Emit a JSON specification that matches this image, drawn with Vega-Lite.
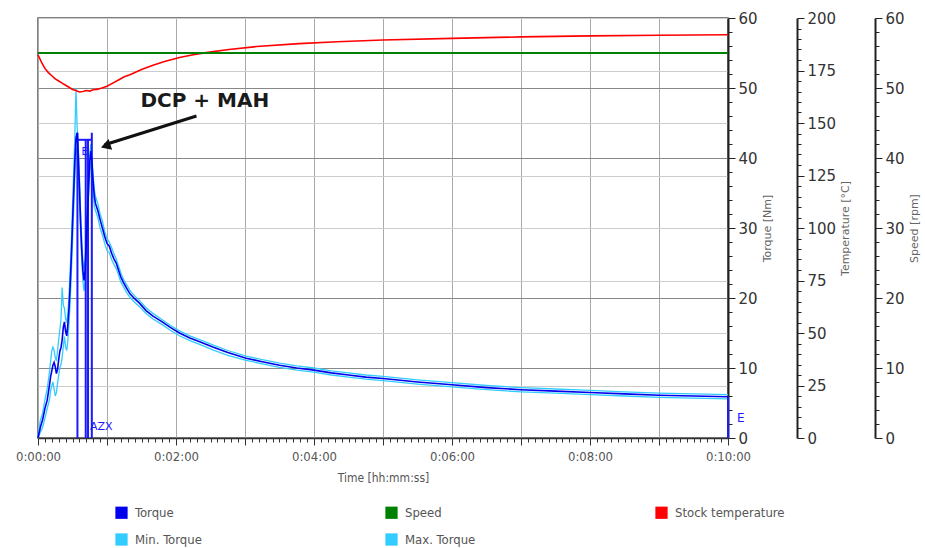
{
"$schema": "https://vega.github.io/schema/vega-lite/v6.json",
"width": 690, "height": 420,
"autosize": {"type": "none"},
"padding": {"left": 38, "top": 18, "right": 197, "bottom": 110},
"background": "white",
"config": {"view": {"stroke": "#555", "strokeWidth": 1.5}, "axis": {"labelOverlap": false}},
"datasets": {
"tq": [{"t":0,"v":0},{"t":2,"v":1.5},{"t":4,"v":2.6},{"t":6,"v":4.2},{"t":8,"v":5.4},{"t":10,"v":7.6},{"t":11,"v":8.8},{"t":12,"v":9.6},{"t":13,"v":10.4},{"t":14,"v":10.8},{"t":15,"v":10.2},{"t":16,"v":9.2},{"t":17,"v":9.8},{"t":18,"v":11.2},{"t":19,"v":12.4},{"t":20,"v":12.9},{"t":21,"v":14},{"t":22,"v":15.8},{"t":23,"v":16.6},{"t":24,"v":15.2},{"t":25,"v":14.6},{"t":26,"v":16.3},{"t":27,"v":18.6},{"t":28,"v":22},{"t":29,"v":26},{"t":30,"v":30.5},{"t":31,"v":35},{"t":32,"v":39.5},{"t":33,"v":42.8},{"t":34,"v":43.6},{"t":35,"v":40.5},{"t":36,"v":36},{"t":37,"v":31},{"t":38,"v":27},{"t":39,"v":24},{"t":40,"v":22.5},{"t":41,"v":24},{"t":42,"v":28},{"t":43,"v":32},{"t":44,"v":36},{"t":45,"v":39.5},{"t":46,"v":41},{"t":47,"v":39},{"t":48,"v":36.5},{"t":49,"v":34.5},{"t":50,"v":33.5},{"t":52,"v":32.5},{"t":54,"v":31.2},{"t":56,"v":30},{"t":58,"v":28.8},{"t":60,"v":27.8},{"t":62,"v":27.4},{"t":64,"v":26.4},{"t":66,"v":25.6},{"t":68,"v":25},{"t":70,"v":24},{"t":72,"v":23},{"t":74,"v":22.3},{"t":77,"v":21.4},{"t":80,"v":20.6},{"t":84,"v":19.9},{"t":88,"v":19.3},{"t":94,"v":18.2},{"t":100,"v":17.4},{"t":108,"v":16.6},{"t":115,"v":15.8},{"t":123,"v":15},{"t":132,"v":14.3},{"t":140,"v":13.8},{"t":152,"v":13},{"t":165,"v":12.2},{"t":181,"v":11.4},{"t":195,"v":10.9},{"t":210,"v":10.4},{"t":225,"v":10},{"t":240,"v":9.7},{"t":255,"v":9.3},{"t":270,"v":9},{"t":285,"v":8.7},{"t":300,"v":8.5},{"t":330,"v":8},{"t":360,"v":7.6},{"t":390,"v":7.2},{"t":420,"v":6.9},{"t":450,"v":6.7},{"t":480,"v":6.5},{"t":510,"v":6.3},{"t":540,"v":6.1},{"t":570,"v":6},{"t":600,"v":5.9}],
"mx": [{"t":0,"v":0.3},{"t":2,"v":2.5},{"t":4,"v":3.5},{"t":6,"v":5.5},{"t":8,"v":7},{"t":10,"v":9.5},{"t":11,"v":11},{"t":12,"v":12.5},{"t":13,"v":13},{"t":14,"v":12.5},{"t":15,"v":11.5},{"t":16,"v":11},{"t":17,"v":12.5},{"t":18,"v":14},{"t":19,"v":15.5},{"t":20,"v":17},{"t":21,"v":21.5},{"t":22,"v":19},{"t":23,"v":18.5},{"t":24,"v":17},{"t":25,"v":16.5},{"t":26,"v":18},{"t":27,"v":20.5},{"t":28,"v":24},{"t":29,"v":28},{"t":30,"v":33},{"t":31,"v":38},{"t":32,"v":43},{"t":33,"v":50},{"t":34,"v":44.5},{"t":35,"v":42},{"t":36,"v":37.5},{"t":37,"v":32.5},{"t":38,"v":28.5},{"t":39,"v":25.5},{"t":40,"v":24},{"t":41,"v":25.5},{"t":42,"v":29.5},{"t":43,"v":33.5},{"t":44,"v":37.5},{"t":45,"v":40.5},{"t":46,"v":42},{"t":47,"v":40},{"t":48,"v":37.5},{"t":49,"v":35.5},{"t":50,"v":34.5},{"t":52,"v":33.5},{"t":54,"v":32},{"t":56,"v":31},{"t":58,"v":29.5},{"t":60,"v":28.5},{"t":62,"v":28},{"t":64,"v":27.2},{"t":66,"v":26.3},{"t":68,"v":25.6},{"t":70,"v":24.6},{"t":72,"v":23.6},{"t":74,"v":22.8},{"t":77,"v":21.9},{"t":80,"v":21.1},{"t":84,"v":20.3},{"t":88,"v":19.7},{"t":94,"v":18.6},{"t":100,"v":17.8},{"t":108,"v":16.9},{"t":115,"v":16.1},{"t":123,"v":15.3},{"t":132,"v":14.6},{"t":140,"v":14.1},{"t":152,"v":13.3},{"t":165,"v":12.5},{"t":181,"v":11.7},{"t":195,"v":11.2},{"t":210,"v":10.7},{"t":225,"v":10.3},{"t":240,"v":10},{"t":255,"v":9.6},{"t":270,"v":9.3},{"t":285,"v":9},{"t":300,"v":8.8},{"t":330,"v":8.3},{"t":360,"v":7.9},{"t":390,"v":7.5},{"t":420,"v":7.2},{"t":450,"v":7},{"t":480,"v":6.8},{"t":510,"v":6.6},{"t":540,"v":6.4},{"t":570,"v":6.3},{"t":600,"v":6.2}],
"mn": [{"t":0,"v":0},{"t":2,"v":0.8},{"t":4,"v":1.5},{"t":6,"v":2.8},{"t":8,"v":4.2},{"t":10,"v":5.5},{"t":11,"v":6.8},{"t":12,"v":7.5},{"t":13,"v":8},{"t":14,"v":7},{"t":15,"v":6},{"t":16,"v":6.5},{"t":17,"v":7.8},{"t":18,"v":9},{"t":19,"v":10},{"t":20,"v":10.5},{"t":21,"v":11.5},{"t":22,"v":13},{"t":23,"v":14.5},{"t":24,"v":13},{"t":25,"v":12.5},{"t":26,"v":14},{"t":27,"v":16.5},{"t":28,"v":19.5},{"t":29,"v":23.5},{"t":30,"v":28},{"t":31,"v":32.5},{"t":32,"v":37},{"t":33,"v":40.5},{"t":34,"v":41.5},{"t":35,"v":38.5},{"t":36,"v":34},{"t":37,"v":29.5},{"t":38,"v":25.5},{"t":39,"v":22.5},{"t":40,"v":21},{"t":41,"v":22.5},{"t":42,"v":26.5},{"t":43,"v":30.5},{"t":44,"v":34.5},{"t":45,"v":38},{"t":46,"v":39.5},{"t":47,"v":37.5},{"t":48,"v":35},{"t":49,"v":33},{"t":50,"v":32.5},{"t":52,"v":31.5},{"t":54,"v":30},{"t":56,"v":29},{"t":58,"v":27.8},{"t":60,"v":26.8},{"t":62,"v":26.5},{"t":64,"v":25.5},{"t":66,"v":24.8},{"t":68,"v":24.2},{"t":70,"v":23.3},{"t":72,"v":22.3},{"t":74,"v":21.7},{"t":77,"v":20.8},{"t":80,"v":20.1},{"t":84,"v":19.4},{"t":88,"v":18.8},{"t":94,"v":17.8},{"t":100,"v":17},{"t":108,"v":16.2},{"t":115,"v":15.4},{"t":123,"v":14.6},{"t":132,"v":13.9},{"t":140,"v":13.4},{"t":152,"v":12.6},{"t":165,"v":11.8},{"t":181,"v":11.1},{"t":195,"v":10.6},{"t":210,"v":10.1},{"t":225,"v":9.7},{"t":240,"v":9.4},{"t":255,"v":9},{"t":270,"v":8.7},{"t":285,"v":8.4},{"t":300,"v":8.2},{"t":330,"v":7.7},{"t":360,"v":7.3},{"t":390,"v":6.9},{"t":420,"v":6.6},{"t":450,"v":6.4},{"t":480,"v":6.2},{"t":510,"v":6},{"t":540,"v":5.8},{"t":570,"v":5.7},{"t":600,"v":5.6}],
"temp": [{"t":0,"T":182.5},{"t":3,"T":179},{"t":6,"T":176},{"t":9,"T":174},{"t":12,"T":172.5},{"t":15,"T":171},{"t":18,"T":170},{"t":21,"T":169},{"t":24,"T":168},{"t":27,"T":167},{"t":30,"T":166},{"t":33,"T":165.5},{"t":36,"T":164.8},{"t":39,"T":165},{"t":42,"T":165.5},{"t":45,"T":165.2},{"t":48,"T":165.8},{"t":51,"T":166},{"t":55,"T":166.5},{"t":60,"T":167.5},{"t":65,"T":169},{"t":70,"T":170.5},{"t":75,"T":172},{"t":80,"T":173},{"t":90,"T":175.5},{"t":100,"T":177.5},{"t":110,"T":179.3},{"t":123,"T":181.2},{"t":135,"T":182.5},{"t":146,"T":183.5},{"t":166,"T":185},{"t":190,"T":186.4},{"t":227,"T":187.8},{"t":260,"T":188.7},{"t":300,"T":189.5},{"t":360,"T":190.3},{"t":420,"T":191},{"t":480,"T":191.5},{"t":540,"T":191.8},{"t":600,"T":192}],
"speed": [{"t":0,"rpm":55},{"t":600,"rpm":55}],
"events": [{"t":34.3,"t2":34.3,"v":0,"v2":43.6},{"t":41.5,"t2":41.5,"v":0,"v2":42.6},{"t":43.5,"t2":43.5,"v":0,"v2":42.6},{"t":46.8,"t2":46.8,"v":0,"v2":43.6},{"t":34.3,"t2":46.8,"v":42.6,"v2":42.6},{"t":600,"t2":600,"v":0,"v2":5.9}],
"marks": [{"t":36,"v":40.8,"label":"E","size":10},{"t":43.5,"v":1.6,"label":"AZX","size":11},{"t":606,"v":2.8,"label":"E","size":12}],
"arrow": [{"t":137.8,"t2":58,"v":46,"v2":41.9}],
"head": [{"t":60.2,"v":41.8}],
"ann": [{"t":145,"v":48.1,"label":"DCP + MAH"}]
},
"layer": [
 {"data": {"name": "mn"}, "mark": {"type": "line", "strokeWidth": 1.3},
  "encoding": {
   "x": {"field": "t", "type": "quantitative", "scale": {"domain": [0, 600], "nice": false, "zero": false},
    "axis": {"values": [0,6,12,18,24,30,36,42,48,54,60,66,72,78,84,90,96,102,108,114,120,126,132,138,144,150,156,162,168,174,180,186,192,198,204,210,216,222,228,234,240,246,252,258,264,270,276,282,288,294,300,306,312,318,324,330,336,342,348,354,360,366,372,378,384,390,396,402,408,414,420,426,432,438,444,450,456,462,468,474,480,486,492,498,504,510,516,522,528,534,540,546,552,558,564,570,576,582,588,594,600],
     "labelExpr": "datum.value % 120 === 0 ? '0:' + (datum.value < 600 ? '0' : '') + (datum.value / 60) + ':00' : ''",
     "labelFlush": false, "labelOverlap": false, "labelFontSize": 13, "labelColor": "#555", "labelFont": "Liberation Sans Narrow, DejaVu Sans Condensed, sans-serif", "labelPadding": 5,
     "tickSize": {"condition": {"test": "datum.value % 60 === 0", "value": 7}, "value": 4},
     "tickColor": "#333", "domainColor": "#333", "domainWidth": 1.5,
     "grid": true, "gridColor": "#aaa", "gridWidth": 1,
     "gridOpacity": {"condition": {"test": "datum.value % 60 === 0", "value": 1}, "value": 0},
     "title": "Time [hh:mm:ss]", "titleFontSize": 12, "titleFontWeight": "normal", "titleColor": "#555", "titleFont": "Liberation Sans Narrow, DejaVu Sans Condensed, sans-serif", "titlePadding": 9}},
   "y": {"field": "v", "type": "quantitative", "scale": {"domain": [0, 60], "nice": false, "zero": false},
    "axis": {"orient": "right", "values": [0,2,4,6,8,10,12,14,16,18,20,22,24,26,28,30,32,34,36,38,40,42,44,46,48,50,52,54,56,58,60],
     "labelExpr": "datum.value % 10 === 0 ? datum.label : ''", "labelOverlap": false,
     "labelFontSize": 15, "labelColor": "#333", "labelFont": "DejaVu Sans", "labelPadding": 3,
     "tickSize": {"condition": {"test": "datum.value % 10 === 0", "value": 7}, "value": 4},
     "tickColor": "#222", "domainColor": "#222", "domainWidth": 2,
     "grid": true, "gridColor": "#888", "gridWidth": 1,
     "gridOpacity": {"condition": {"test": "datum.value % 10 === 0", "value": 1}, "value": 0},
     "title": "Torque [Nm]", "titleAngle": 270, "titleBaseline": "top", "titleFontSize": 11, "titleFontWeight": "normal", "titleColor": "#666", "titleFont": "DejaVu Sans", "titlePadding": 4}},
   "color": {"datum": "Min. Torque", "type": "nominal",
    "scale": {"domain": ["Torque", "Speed", "Stock temperature", "Min. Torque", "Max. Torque"], "range": ["#0000ee", "#008000", "#ff0000", "#33ccff", "#33ccff"]},
    "legend": {"orient": "none", "legendX": 77, "legendY": 488, "direction": "horizontal", "columns": 3, "columnPadding": 140, "rowPadding": 13, "gridAlign": "all",
     "symbolType": "square", "symbolSize": 150, "symbolStrokeWidth": 0, "title": null,
     "labelFontSize": 13, "labelColor": "#555", "labelFont": "Liberation Sans Narrow, DejaVu Sans Condensed, sans-serif", "labelOffset": 7,
     "encode": {"symbols": {"update": {"fill": {"scale": "color", "field": "value"}, "opacity": {"value": 1}}}}}}
  }},
 {"data": {"name": "mx"}, "mark": {"type": "line", "strokeWidth": 1.3},
  "encoding": {"x": {"field": "t", "type": "quantitative", "scale": {"domain": [0, 600], "nice": false, "zero": false}, "axis": null}, "y": {"field": "v", "type": "quantitative", "scale": {"domain": [0, 60], "nice": false, "zero": false}, "axis": null}, "color": {"datum": "Max. Torque", "type": "nominal"}}},
 {"data": {"name": "events"}, "mark": {"type": "rule", "color": "#1a1aff", "strokeWidth": 2},
  "encoding": {"x": {"field": "t", "type": "quantitative", "scale": {"domain": [0, 600], "nice": false, "zero": false}, "axis": null}, "x2": {"field": "t2"}, "y": {"field": "v", "type": "quantitative", "scale": {"domain": [0, 60], "nice": false, "zero": false}, "axis": null}, "y2": {"field": "v2"}}},
 {"data": {"name": "tq"}, "mark": {"type": "line", "strokeWidth": 1.6},
  "encoding": {"x": {"field": "t", "type": "quantitative", "scale": {"domain": [0, 600], "nice": false, "zero": false}, "axis": null}, "y": {"field": "v", "type": "quantitative", "scale": {"domain": [0, 60], "nice": false, "zero": false}, "axis": null}, "color": {"datum": "Torque", "type": "nominal"}}},
 {"data": {"name": "marks"}, "mark": {"type": "text", "color": "#1a1aff", "font": "DejaVu Sans", "align": "left", "dx": 2},
  "encoding": {"x": {"field": "t", "type": "quantitative", "scale": {"domain": [0, 600], "nice": false, "zero": false}, "axis": null}, "y": {"field": "v", "type": "quantitative", "scale": {"domain": [0, 60], "nice": false, "zero": false}, "axis": null}, "text": {"field": "label"}, "size": {"field": "size", "type": "quantitative", "scale": null}}},
 {"data": {"name": "arrow"}, "mark": {"type": "rule", "color": "#111", "strokeWidth": 3},
  "encoding": {"x": {"field": "t", "type": "quantitative", "scale": {"domain": [0, 600], "nice": false, "zero": false}, "axis": null}, "x2": {"field": "t2"}, "y": {"field": "v", "type": "quantitative", "scale": {"domain": [0, 60], "nice": false, "zero": false}, "axis": null}, "y2": {"field": "v2"}}},
 {"data": {"name": "head"}, "mark": {"type": "point", "shape": "triangle", "filled": true, "size": 130, "angle": 252, "color": "#111", "opacity": 1},
  "encoding": {"x": {"field": "t", "type": "quantitative", "scale": {"domain": [0, 600], "nice": false, "zero": false}, "axis": null}, "y": {"field": "v", "type": "quantitative", "scale": {"domain": [0, 60], "nice": false, "zero": false}, "axis": null}}},
 {"data": {"name": "ann"}, "mark": {"type": "text", "color": "#1a1a1a", "fontSize": 20, "fontWeight": "bold", "font": "DejaVu Sans"},
  "encoding": {"x": {"field": "t", "type": "quantitative", "scale": {"domain": [0, 600], "nice": false, "zero": false}, "axis": null}, "y": {"field": "v", "type": "quantitative", "scale": {"domain": [0, 60], "nice": false, "zero": false}, "axis": null}, "text": {"field": "label"}}},
 {"data": {"name": "temp"}, "mark": {"type": "line", "strokeWidth": 1.6},
  "encoding": {"x": {"field": "t", "type": "quantitative", "scale": {"domain": [0, 600], "nice": false, "zero": false}, "axis": null},
   "y": {"field": "T", "type": "quantitative", "scale": {"domain": [0, 200], "nice": false, "zero": false},
    "axis": {"orient": "right", "offset": 69, "values": [0,5,10,15,20,25,30,35,40,45,50,55,60,65,70,75,80,85,90,95,100,105,110,115,120,125,130,135,140,145,150,155,160,165,170,175,180,185,190,195,200],
     "labelExpr": "datum.value % 25 === 0 ? datum.label : ''", "labelOverlap": false,
     "labelFontSize": 15, "labelColor": "#333", "labelFont": "DejaVu Sans", "labelPadding": 3,
     "tickSize": {"condition": {"test": "datum.value % 25 === 0", "value": 7}, "value": 4},
     "tickColor": "#222", "domainColor": "#222", "domainWidth": 2,
     "grid": true, "gridColor": "#ccc", "gridWidth": 1,
     "gridOpacity": {"condition": {"test": "datum.value % 25 === 0", "value": 1}, "value": 0},
     "title": "Temperature [°C]", "titleAngle": 270, "titleBaseline": "top", "titleFontSize": 11, "titleFontWeight": "normal", "titleColor": "#666", "titleFont": "DejaVu Sans", "titlePadding": 4}},
   "color": {"datum": "Stock temperature", "type": "nominal"}}},
 {"data": {"name": "speed"}, "mark": {"type": "line", "strokeWidth": 2},
  "encoding": {"x": {"field": "t", "type": "quantitative", "scale": {"domain": [0, 600], "nice": false, "zero": false}, "axis": null},
   "y": {"field": "rpm", "type": "quantitative", "scale": {"domain": [0, 60], "nice": false, "zero": false},
    "axis": {"orient": "right", "offset": 147, "values": [0,2,4,6,8,10,12,14,16,18,20,22,24,26,28,30,32,34,36,38,40,42,44,46,48,50,52,54,56,58,60],
     "labelExpr": "datum.value % 10 === 0 ? datum.label : ''", "labelOverlap": false,
     "labelFontSize": 15, "labelColor": "#333", "labelFont": "DejaVu Sans", "labelPadding": 3,
     "tickSize": {"condition": {"test": "datum.value % 10 === 0", "value": 7}, "value": 4},
     "tickColor": "#222", "domainColor": "#222", "domainWidth": 2, "grid": false,
     "title": "Speed [rpm]", "titleAngle": 270, "titleBaseline": "top", "titleFontSize": 11, "titleFontWeight": "normal", "titleColor": "#666", "titleFont": "DejaVu Sans", "titlePadding": 4}},
   "color": {"datum": "Speed", "type": "nominal"}}}
],
"resolve": {"scale": {"x": "independent", "y": "independent"}}
}
